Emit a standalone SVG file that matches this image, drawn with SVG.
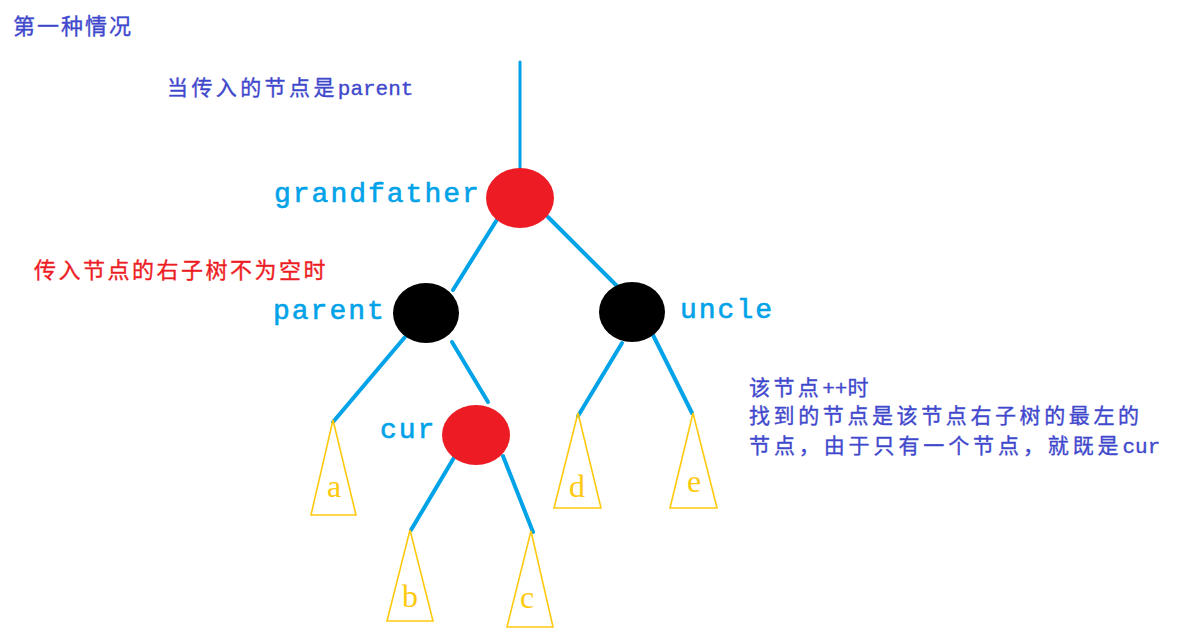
<svg xmlns="http://www.w3.org/2000/svg" width="1200" height="640" viewBox="0 0 1200 640">
<style>
.cjk{font-family:"Noto Sans CJK SC","Noto Sans",sans-serif;font-size:21px;letter-spacing:3.4px;stroke-width:0.35px}
.lat{font-family:"Liberation Mono",monospace;letter-spacing:0px}
.note{fill:#3F48CC;stroke:#3F48CC}
.lbl{font-family:"Liberation Mono",monospace;font-size:28px;fill:#00A2E8;stroke:#00A2E8;stroke-width:0.6px;letter-spacing:2px}
.leaf{font-family:"Liberation Serif",serif;font-size:32px;fill:#FFC90E;text-anchor:middle}
.edge{stroke:#00A2E8;stroke-width:4;stroke-linecap:round;fill:none}
.tri{fill:none;stroke:#FFC90E;stroke-width:1.6}
</style>
<rect width="1200" height="640" fill="#FFFFFF"/>
<text class="cjk note" x="13" y="34" style="font-size:22px;letter-spacing:2px">第一种情况</text>
<text class="cjk note" x="167" y="95">当传入的节点是<tspan class="lat">parent</tspan></text>
<text class="cjk" x="34" y="278" fill="#ED1C24" stroke="#ED1C24" style="font-size:22px;letter-spacing:2.5px">传入节点的右子树不为空时</text>
<text class="cjk note" x="749" y="395">该节点<tspan class="lat">++</tspan>时</text>
<text class="cjk note" x="749" y="423" style="letter-spacing:3.6px">找到的节点是该节点右子树的最左的</text>
<text class="cjk note" x="749" y="453" style="letter-spacing:3.9px">节点，由于只有一个节点，就既是<tspan class="lat">cur</tspan></text>
<g id="connectors">
<line class="edge" x1="520" y1="62" x2="520" y2="170" style="stroke-width:3"/>
<line class="edge" x1="498" y1="218" x2="453" y2="290"/>
<line class="edge" x1="548" y1="217" x2="617" y2="286"/>
<line class="edge" x1="405" y1="337" x2="333" y2="422"/>
<line class="edge" x1="452" y1="342" x2="488" y2="402"/>
<line class="edge" x1="622" y1="343" x2="578" y2="416"/>
<line class="edge" x1="653" y1="335" x2="692" y2="413"/>
<line class="edge" x1="455" y1="456" x2="411" y2="530"/>
<line class="edge" x1="503" y1="456" x2="533" y2="532"/>
</g>
<g id="grandfather">
<ellipse cx="520" cy="198" rx="34" ry="30" fill="#ED1C24"/>
<text class="lbl" x="274" y="202">grandfather</text>
</g>
<g id="parent">
<ellipse cx="426" cy="313" rx="33" ry="30" fill="#000000"/>
<text class="lbl" x="273" y="319">parent</text>
</g>
<g id="uncle">
<ellipse cx="632" cy="312" rx="33" ry="30" fill="#000000"/>
<text class="lbl" x="680" y="318">uncle</text>
</g>
<g id="cur">
<ellipse cx="476" cy="435" rx="34" ry="30" fill="#ED1C24"/>
<text class="lbl" x="380" y="438">cur</text>
</g>
<g id="a">
<polygon class="tri" points="333,420 311,515 356,515"/>
<text class="leaf" x="334" y="497">a</text>
</g>
<g id="b">
<polygon class="tri" points="410,530 387,621 433,621"/>
<text class="leaf" x="410" y="607">b</text>
</g>
<g id="c">
<polygon class="tri" points="531,531 507,627 553,627"/>
<text class="leaf" x="527" y="608">c</text>
</g>
<g id="d">
<polygon class="tri" points="578,413 554,508 601,508"/>
<text class="leaf" x="577" y="497">d</text>
</g>
<g id="e">
<polygon class="tri" points="693,413 670,508 717,508"/>
<text class="leaf" x="694" y="492">e</text>
</g>
</svg>
